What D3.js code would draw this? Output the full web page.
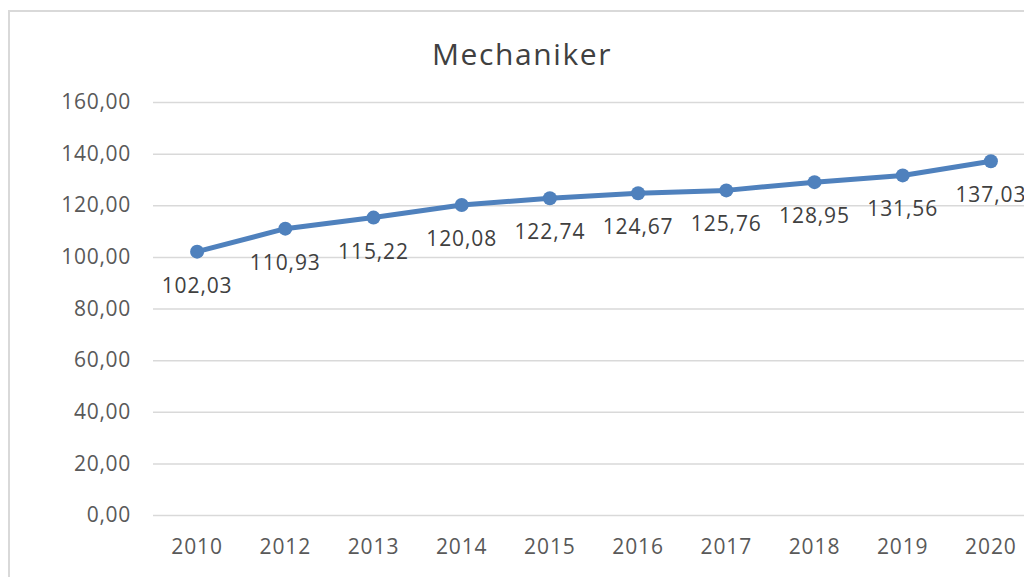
<!DOCTYPE html>
<html><head><meta charset="utf-8">
<script src="https://cdn.jsdelivr.net/npm/d3@7"></script>
<style>html,body{margin:0;padding:0;background:#fff;overflow:hidden}</style>
</head><body>
<svg id="c" width="1024" height="577"></svg>
<script>
const categories = ["2010","2012","2013","2014","2015","2016","2017","2018","2019","2020"];
const values = [102.03,110.93,115.22,120.08,122.74,124.67,125.76,128.95,131.56,137.03];
const yTicks = [0,20,40,60,80,100,120,140,160];
const title = "Mechaniker";

const svg = d3.select("#c");
const font = "'Open Sans', 'Noto Sans', sans-serif";
const txt = "#595959";
const fmt = v => d3.format(".2f")(v).replace(".", ",");

svg.append("rect").attr("x",9).attr("y",11).attr("width",1100).attr("height",600)
  .attr("fill","#fff").attr("stroke","#d9d9d9").attr("stroke-width",2);

const x = d3.scaleBand().domain(categories).range([153,1035]);
const y = d3.scaleLinear().domain([0,160]).range([515,102]);

svg.append("text").attr("x",522).attr("y",65).attr("text-anchor","middle")
  .attr("font-family",font).attr("font-size",30).attr("letter-spacing",1.6)
  .attr("fill","#404040").text(title);

const yAxis = svg.append("g").attr("transform","translate(153,0)")
  .call(d3.axisLeft(y).tickValues(yTicks).tickFormat(fmt).tickSize(-882).tickPadding(22));
yAxis.select(".domain").remove();
yAxis.selectAll("line").attr("stroke","#d9d9d9").attr("stroke-width",1.5);
yAxis.selectAll("text").attr("font-family",font).attr("font-size",21).attr("letter-spacing",0.7).attr("fill",txt);

const xAxis = svg.append("g").attr("transform","translate(0,515)")
  .call(d3.axisBottom(x).tickSize(0).tickPadding(24));
xAxis.select(".domain").remove();
xAxis.selectAll("text").attr("font-family",font).attr("font-size",21).attr("letter-spacing",0.9).attr("fill",txt);

const cx = d => x(d) + x.bandwidth()/2;
const data = categories.map((c,i)=>({c, v: values[i]}));

svg.append("path").datum(data)
  .attr("fill","none").attr("stroke","#4f81bd").attr("stroke-width",5).attr("stroke-linejoin","round")
  .attr("d", d3.line().x(d=>cx(d.c)).y(d=>y(d.v)));

svg.selectAll("circle.pt").data(data).join("circle")
  .attr("cx",d=>cx(d.c)).attr("cy",d=>y(d.v)).attr("r",7).attr("fill","#4f81bd");

svg.selectAll("text.lbl").data(data).join("text")
  .attr("x",d=>cx(d.c)).attr("y",d=>y(d.v)+41).attr("text-anchor","middle")
  .attr("font-family",font).attr("font-size",21).attr("letter-spacing",0.9)
  .attr("fill","#404040").text(d=>fmt(d.v));
</script>
</body></html>
